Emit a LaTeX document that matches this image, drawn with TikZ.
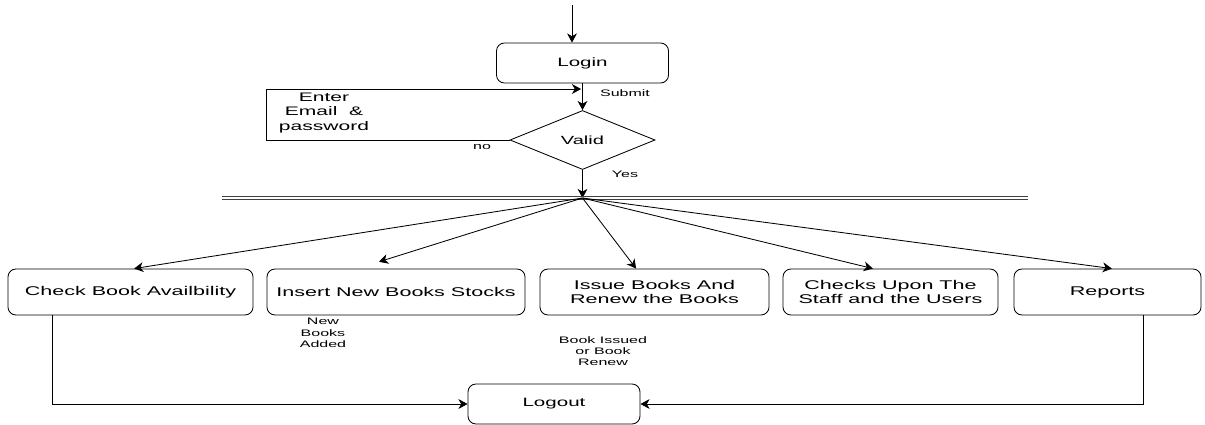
\documentclass[tikz,border=0pt]{standalone}
\usepackage{fontspec}
\setmainfont{Liberation Sans}[FakeStretch=1.7]
\usetikzlibrary{shapes.geometric, arrows.meta}
\tikzstyle{startstop} = [rectangle, rounded corners=0.2cm, minimum width=4.3cm, minimum height=1cm, align=center, draw=black, font=\fontsize{8.6}{10}\selectfont]
\tikzstyle{decision} = [diamond, minimum width=3.625cm, minimum height=1.475cm, inner sep=0pt, align=center, draw=black, font=\fontsize{8.4}{10}\selectfont]
\tikzstyle{task} = [rectangle, rounded corners=0.2cm, minimum height=1.15cm, align=center, draw=black, font=\fontsize{9}{10}\selectfont]
\tikzstyle{note} = [align=center, inner sep=0pt, font=\fontsize{6.7}{8}\selectfont]
\tikzstyle{arrow} = [->,>={Stealth[length=6.5pt, width=7pt, inset=2pt]}]

\begin{document}
\begin{tikzpicture}[x=0.025cm, y=-0.025cm, line width=0.6pt]
		\useasboundingbox (0,0) rectangle (1205,424);
		\node (login) [startstop] at (582.5,63) {Login};
		\node (valid) [decision] at (582.5,140) {Valid};
		\node (check) [task, minimum width=6.125cm] at (130.5,292) {Check Book Availbility};
		\node (insert) [task, minimum width=6.45cm] at (396,292) {Insert New Books Stocks};
		\node (issue) [task, minimum width=5.725cm] at (654.5,292) {Issue Books And\\Renew the Books};
		\node (staff) [task, minimum width=5.375cm] at (890.5,292) {Checks Upon The\\Staff and the Users};
		\node (reports) [task, minimum width=4.675cm] at (1107.5,292) {Reports};
		\node (logout) [startstop] at (554,404) {Logout};
		
		\coordinate (start) at (572,5);
		\coordinate (hub) at (582.5,198);
		\coordinate (loop) at (266,89);
		\coordinate (join) at (582.5,89);
		\coordinate (barleft) at (222,198);
		\coordinate (barright) at (1028,198);
		
		\node (enter) [note, font=\fontsize{8.8}{10}\selectfont] at (324,113) {Enter\\Email \ \&\\password};
		\node (submit) [note] at (625,93) {Submit};
		\node (no) [note] at (482,147) {no};
		\node (yes) [note] at (625,174) {Yes};
		\node (added) [note] at (323,333) {New\\Books\\Added};
		\node (issued) [note] at (603,351) {Book Issued\\or Book\\Renew};
		
		\draw [arrow](start) -- (start |- login.north);
		\draw [arrow](login) -- (valid);
		\draw [arrow](valid.west) -| (loop) -- ([xshift=-1pt]join);
		\draw [arrow](valid) -- (hub);
		\draw [double, double distance=1.6pt, line width=0.45pt, black!75] (barleft) -- (barright);
		
		\draw [arrow](hub) -- ([xshift=0.09cm]check.north);
		\draw [arrow](hub) -- ([xshift=-0.425cm, yshift=0.17cm]insert.north);
		\draw [arrow](hub) -- ([xshift=-0.46cm]issue.north);
		\draw [arrow](hub) -- ([xshift=-0.44cm]staff.north);
		\draw [arrow](hub) -- ([xshift=0.11cm]reports.north);
		
		\draw [arrow]([xshift=-1.96cm]check.south) |- (logout.west);
		\draw [arrow]([xshift=0.89cm]reports.south) |- (logout.east);
	\end{tikzpicture}
\end{document}
